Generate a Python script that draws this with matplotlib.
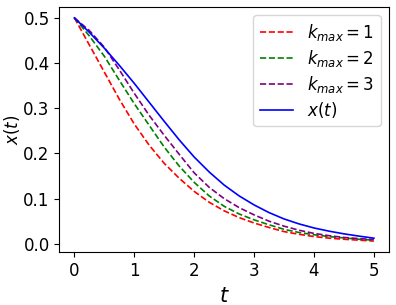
import numpy as np
import matplotlib
matplotlib.use("Agg")
import matplotlib.pyplot as plt

# values
t = [0.0, 0.25, 0.5, 0.75, 1.0, 1.25, 1.5, 1.75, 2.0, 2.25, 2.5,
     2.75, 3.0, 3.25, 3.5, 3.75, 4.0, 4.25, 4.5, 4.75, 5.0]

x_k1 = [0.5, 0.44, 0.38, 0.32, 0.265, 0.218, 0.178, 0.145, 0.116, 0.092, 0.073,
        0.058, 0.046, 0.036, 0.027, 0.021, 0.016, 0.0125, 0.010, 0.008, 0.006]
x_k2 = [0.5, 0.46, 0.415, 0.362, 0.31, 0.262, 0.214, 0.172, 0.136, 0.106, 0.083,
        0.066, 0.053, 0.042, 0.032, 0.025, 0.020, 0.016, 0.013, 0.010, 0.008]
x_k3 = [0.5, 0.472, 0.435, 0.385, 0.333, 0.284, 0.240, 0.198, 0.157, 0.125, 0.100,
        0.080, 0.064, 0.050, 0.039, 0.030, 0.023, 0.018, 0.014, 0.0115, 0.0095]
x_true = [0.5, 0.468, 0.433, 0.395, 0.355, 0.313, 0.271, 0.230, 0.192, 0.159, 0.130,
          0.106, 0.086, 0.069, 0.055, 0.044, 0.035, 0.028, 0.022, 0.017, 0.0124]

approx = [x_k1, x_k2, x_k3]
labels = [r'$k_{max}=1$', r'$k_{max}=2$', r'$k_{max}=3$']
colors = ['red', 'green', 'purple']

fig, ax = plt.subplots(figsize=(3.96, 3.05), dpi=100)
fig.subplots_adjust(left=0.15, right=0.982, top=0.978, bottom=0.173)

for xs, lab, c in zip(approx, labels, colors):
    ax.plot(t, xs, '--', color=c, linewidth=1.2, label=lab)
ax.plot(t, x_true, '-', color='blue', linewidth=1.2, label=r'$x(t)$')

ax.set_xlabel(r'$t$', fontsize=15)
ax.set_ylabel(r'$x(t)$', fontsize=12)
ax.yaxis.set_label_coords(-0.112, 0.5)
ax.tick_params(labelsize=12)
ax.set_yticks([0.0, 0.1, 0.2, 0.3, 0.4, 0.5])
ax.legend(loc='upper right', fontsize=12, labelspacing=0.3, borderpad=0.4)

fig.savefig('out.png', dpi=100)
